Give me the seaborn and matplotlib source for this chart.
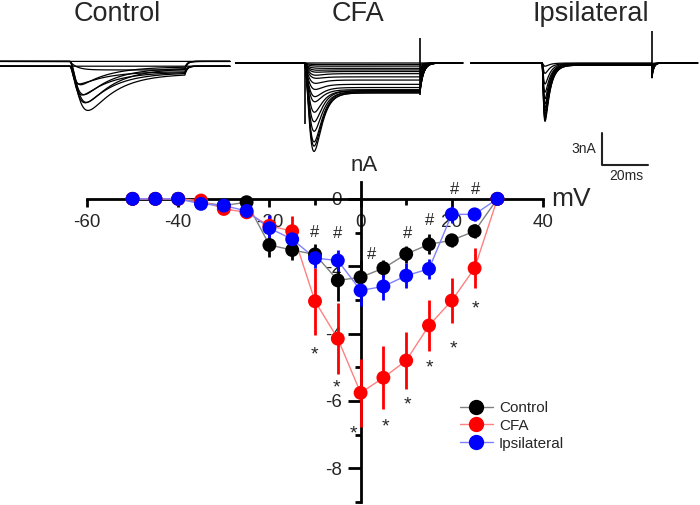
import numpy as np
import pandas as pd
import seaborn as sns
import matplotlib.pyplot as plt
from matplotlib.lines import Line2D

sns.set_style("white")
plt.rcParams['font.family'] = ['Liberation Sans', 'DejaVu Sans']
plt.rcParams['axes.unicode_minus'] = False

# ---- I-V curve (mean +/- SEM) ----
voltage = [-50, -45, -40, -35, -30, -25, -20, -15, -10, -5, 0, 5, 10, 15, 20, 25, 30]
control_na = [0, 0, 0, -0.1, -0.2, -0.1, -1.37, -1.52, -1.65, -2.42, -2.33, -2.06, -1.64, -1.35, -1.23, -0.96, 0]
control_sem = [0, 0, 0, 0.05, 0.05, 0.1, 0.36, 0.3, 0.3, 0.6, 0.5, 0.25, 0.25, 0.3, 0.2, 0.2, 0]
cfa_na = [0, 0, 0, -0.05, -0.3, -0.4, -0.8, -0.96, -3.04, -4.15, -5.76, -5.31, -4.8, -3.76, -3.02, -2.06, 0]
cfa_sem = [0, 0, 0, 0.05, 0.1, 0.1, 0.3, 0.45, 1.0, 1.05, 1.0, 0.93, 0.85, 0.77, 0.67, 0.6, 0]
ipsi_na = [0, 0, 0, -0.15, -0.2, -0.36, -0.87, -1.2, -1.76, -1.83, -2.72, -2.6, -2.28, -2.08, -0.46, -0.46, 0]
ipsi_sem = [0, 0, 0, 0.05, 0.1, 0.1, 0.4, 0.35, 0.3, 0.3, 0.45, 0.4, 0.37, 0.3, 0.25, 0.2, 0]

groups = ['Control', 'CFA', 'Ipsilateral']
marker_colors = {'Control': '#000000', 'CFA': '#ff0000', 'Ipsilateral': '#0000ff'}
line_colors = {'Control': '#808080', 'CFA': '#ff8080', 'Ipsilateral': '#8080ff'}

# significance marks (mV, nA)
hash_mv = [-10, -5, 2.3, 10.4, 15.2, 20.7, 25.1]
hash_na = [-0.95, -1.0, -1.6, -1.0, -0.6, 0.33, 0.33]
star_mv = [-10.2, -5.2, -1.6, 5.4, 10.2, 15.2, 20.3, 25.1]
star_na = [-4.45, -5.42, -6.8, -6.6, -5.93, -4.84, -4.27, -3.09]

# ---- example sweeps (nA) ----
ctrl_peak = [0, 0, 0.8, 1.8, 2.3, 2.8, 3.2, 3.5, 3.9, 4.2]
ctrl_sus = [0, 0, 0.8, 0.5, 0.5, 0.55, 0.6, 0.6, 0.65, 0.7]
ctrl_rise = [1, 1, 4, 1.0, 1.3, 1.6, 2.0, 2.3, 2.6, 3.0]
ctrl_hold = [0.15, -0.3, 0.15, -0.3, 0.15, -0.3, 0.15, -0.3, 0.15, -0.3]

cfa_peak = [0, 0.15, 0.3, 0.5, 0.7, 0.9, 1.2, 1.5, 2.0, 2.6, 3.3, 3.8, 4.8, 5.7, 6.6, 7.6, 8.0, 8.5]
cfa_sus = [0, 0.15, 0.3, 0.5, 0.65, 0.8, 1.0, 1.3, 1.6, 2.0, 2.3, 2.5, 2.6, 2.6, 2.7, 2.7, 2.8, 2.8]

ipsi_peak = [0.3, 1.0, 2.0, 2.8, 3.4, 3.9, 4.3, 4.6, 4.9, 5.2, 5.4, 5.6]
ipsi_sus = [0, 0.05, 0.05, 0.1, 0.1, 0.1, 0.15, 0.15, 0.15, 0.2, 0.2, 0.2]


def sweep(t, t_on, t_off, peak, sus, rise, decay, act, tail, tail_amp=0.0, hold=0.0):
    x = np.clip(t - t_on, 0, None)
    shape = (1 - np.exp(-x / rise)) ** 3 * np.exp(-x / decay)
    shape = shape / shape.max()
    cur = -(max(peak - sus, 0) * shape + sus * (1 - np.exp(-x / act)))
    end = np.interp(t_off, t, cur) + tail_amp
    after = t >= t_off
    cur[after] = end * np.exp(-(t[after] - t_off) / tail)
    return cur + hold


fig = plt.figure(figsize=(7, 5.05), dpi=100)
W, H = 700, 505
px_ms, px_na = 2.3, 10.67


def trace_axes(x0, x1):
    ax = fig.add_axes([x0 / W, 1 - 159 / H, (x1 - x0) / W, 128 / H])
    ax.set_xlim(0, (x1 - x0) / px_ms)
    ax.set_ylim(-9, 3)
    ax.axis('off')
    return ax


# Control
ax1 = trace_axes(0, 233)
t = np.arange(0, 100, 0.05)
for pk, s, r, h in zip(ctrl_peak, ctrl_sus, ctrl_rise, ctrl_hold):
    ax1.plot(t, sweep(t, 30.4, 80.4, pk, s, r, 12, 3, 1.0, hold=h), color='black', lw=0.9)

# CFA
ax2 = trace_axes(235, 470)
t = np.arange(0, 99, 0.05)
for pk, s in zip(cfa_peak, cfa_sus):
    ax2.plot(t, sweep(t, 30.4, 80.4, pk, s, 2.5, 3.0, 1.5, 1.5), color='black', lw=0.9)
ax2.vlines(30.4, -5.7, 0, color='black', lw=1.2)
ax2.vlines(80.4, -3.0, 2.3, color='black', lw=1.2)

# Ipsilateral
ax3 = trace_axes(470, 700)
t = np.arange(0, 99, 0.05)
for pk, s in zip(ipsi_peak, ipsi_sus):
    ax3.plot(t, sweep(t, 31.3, 79.1, pk, s, 0.5, 2.2, 3, 0.8, tail_amp=-1.2 * pk / max(ipsi_peak)),
             color='black', lw=0.9)
ax3.vlines(79.1, -1.4, 3.4, color='black', lw=1.2)

# scale bar
ax3.plot([57.4, 57.4, 77.4], [-6.56, -9.56, -9.56], color='#222222', lw=1.5, clip_on=False)
ax3.text(54.8, -8.06, '3nA', ha='right', va='center', fontsize=10)
ax3.text(67.8, -10.6, '20ms', ha='center', va='center', fontsize=10)

for name, xc in zip(groups, [117, 358, 591]):
    fig.text(xc / W, 1 - 14 / H, name, ha='center', va='center', fontsize=19.5)

# ---- I-V plot ----
iv = fig.add_axes([87 / W, 3 / H, 456 / W, 320 / H])
iv.set_xlim(-60, 40)
iv.set_ylim(-9, 0.5)
iv.patch.set_alpha(0)
for s in ['top', 'right']:
    iv.spines[s].set_visible(False)
for s in ['left', 'bottom']:
    iv.spines[s].set_position(('data', 0))
    iv.spines[s].set_linewidth(2.0)
    iv.spines[s].set_color('black')

iv.set_xticks([-60, -40, -20, 0, 20, 40])
iv.set_xticks([-50, -30, -10, 10, 30], minor=True)
iv.set_yticks([0, -2, -4, -6, -8])
iv.set_yticks([-1, -3, -5, -7, -9], minor=True)
iv.tick_params(axis='x', which='major', direction='out', length=6, width=2, labelsize=13.5, pad=5)
iv.tick_params(axis='x', which='minor', direction='out', length=4, width=2)
iv.tick_params(axis='y', which='major', direction='out', length=9.5, width=2, labelsize=13.5, pad=4)
iv.tick_params(axis='y', which='minor', direction='out', length=4.5, width=2)
iv.tick_params(bottom=True, left=True, which='both', color='black')

means = {'Control': control_na, 'CFA': cfa_na, 'Ipsilateral': ipsi_na}
sems = {'Control': control_sem, 'CFA': cfa_sem, 'Ipsilateral': ipsi_sem}
df = pd.concat([pd.DataFrame({'mV': voltage, 'nA': means[g], 'group': g}) for g in groups],
               ignore_index=True)

sns.lineplot(data=df, x='mV', y='nA', hue='group', hue_order=groups, palette=line_colors,
             estimator=None, sort=False, linewidth=1, legend=False, ax=iv, zorder=3)
for g in groups:
    iv.errorbar(voltage, means[g], yerr=sems[g], fmt='none', ecolor=marker_colors[g],
                elinewidth=2, capsize=0, zorder=3.5)
sns.scatterplot(data=df, x='mV', y='nA', hue='group', hue_order=groups, palette=marker_colors,
                s=100, linewidth=0, legend=False, ax=iv, zorder=4)
iv.set_xlabel('')
iv.set_ylabel('')

for x, y in zip(hash_mv, hash_na):
    iv.annotate('#', (x, y), xytext=(0, -1), textcoords='offset points',
                ha='center', va='center', fontsize=12)
for x, y in zip(star_mv, star_na):
    iv.annotate('*', (x, y), xytext=(0, -4.5), textcoords='offset points',
                ha='center', va='center', fontsize=14)

iv.text(0.8, 1.0, 'nA', ha='center', va='center', fontsize=16)
iv.text(46.2, 0.0, 'mV', ha='center', va='center', fontsize=19)

handles = [Line2D([0], [0], color=line_colors[g], lw=1, marker='o', markersize=10,
                  markerfacecolor=marker_colors[g], markeredgecolor=marker_colors[g]) for g in groups]
iv.legend(handles, groups, loc='upper left', bbox_to_anchor=(0.818, 0.316), frameon=False,
          fontsize=11, borderpad=0, borderaxespad=0, handlelength=2.15, handletextpad=0.4,
          labelspacing=0.25)

fig.savefig('out.png', dpi=100)
